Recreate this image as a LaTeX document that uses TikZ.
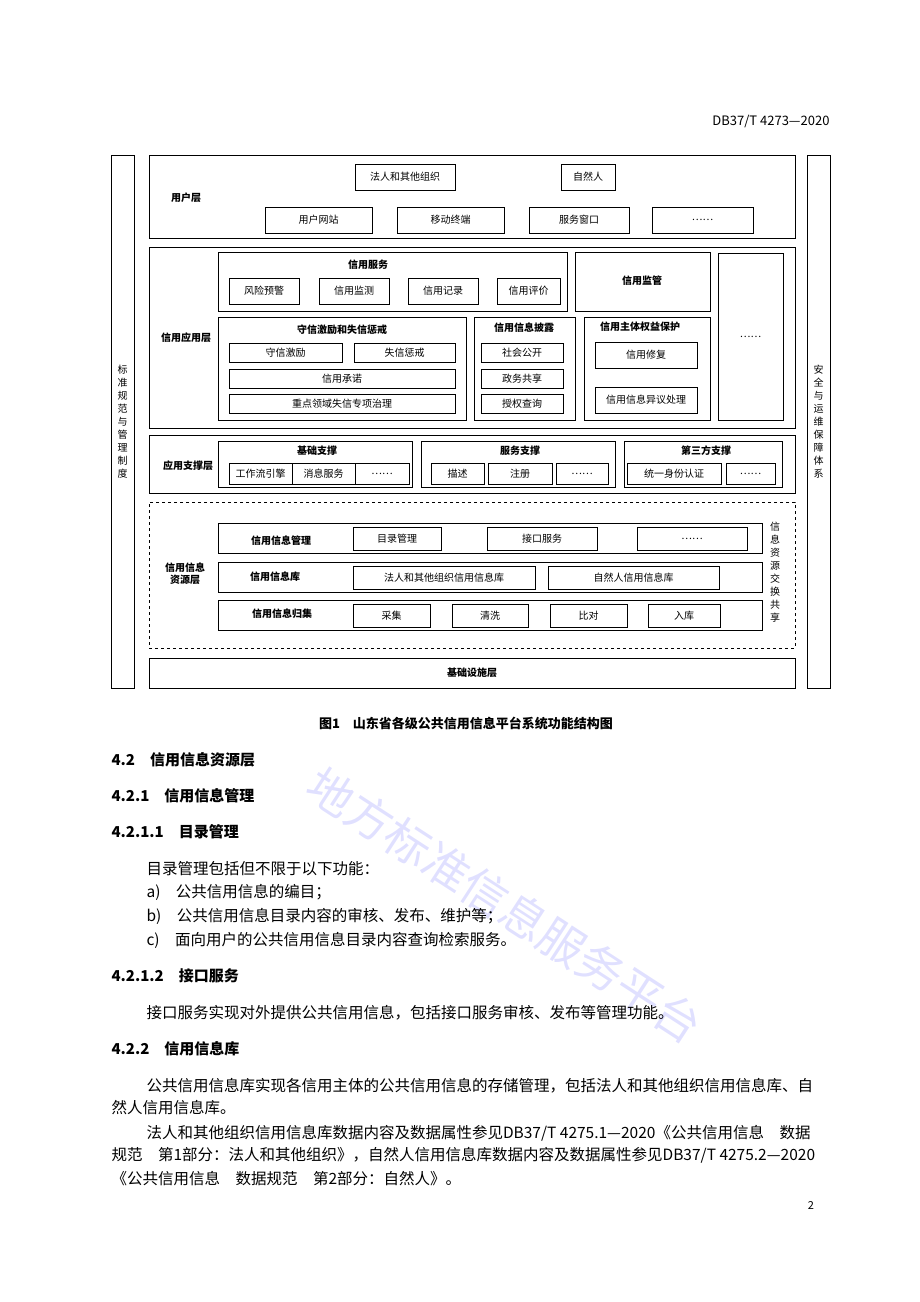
\documentclass[tikz,border=0pt]{standalone}
\usepackage{fontspec}
\setmainfont{Noto Sans CJK SC}
\usetikzlibrary{positioning}
\tikzset{
  box/.style={draw, thick, inner sep=0pt, font=\fontsize{10}{12}\selectfont},
  lbl/.style={font=\fontsize{10}{12}\selectfont\bfseries},
  vtext/.style={font=\fontsize{10}{13}\selectfont, align=center, inner sep=0pt},
  body/.style={anchor=west, font=\fontsize{15.5}{17}\selectfont},
  head/.style={anchor=west, font=\fontsize{15}{17}\selectfont\bfseries}
}
% box from corner (x1,y1) to (x2,y2), pixel units
\newcommand\bx[6]{\node[box, minimum width={#4-#2}, minimum height={#5-#3}] (#1) at ({(#2+#4)/2},{(#3+#5)/2}) {#6};}
\begin{document}
\begin{tikzpicture}[x=1pt,y=-1pt]
\useasboundingbox (0,0) rectangle (920,1302);
\node[anchor=east, font=\fontsize{13}{15}\selectfont] (pghead) at (833,121) {DB37/T 4273—2020};

% side columns
\bx{std}{111}{155}{134}{688}{}
\node[vtext] (stdt) at (std) {标\\准\\规\\范\\与\\管\\理\\制\\度};
\bx{safe}{807}{155}{830}{688}{}
\node[vtext] (safet) at (safe) {安\\全\\与\\运\\维\\保\\障\\体\\系};

% user layer
\bx{user}{149}{155}{795}{238}{}
\node[lbl] (usert) at (186,198) {用户层};
\bx{legal}{355}{164}{455}{190}{法人和其他组织}
\bx{person}{561}{164}{615}{190}{自然人}
\bx{web}{265}{207}{372}{233}{用户网站}
\bx{mobile}{397}{207}{504}{233}{移动终端}
\bx{window}{529}{207}{629}{233}{服务窗口}
\bx{umore}{652}{207}{753}{233}{……}

% application layer
\bx{app}{149}{247}{795}{428}{}
\node[lbl] (appt) at (186,338) {信用应用层};
\bx{svc}{218}{252}{567}{311}{}
\node[lbl] (svct) at (368,265) {信用服务};
\bx{warn}{229}{278}{299}{304}{风险预警}
\bx{monitor}{319}{278}{389}{304}{信用监测}
\bx{record}{408}{278}{478}{304}{信用记录}
\bx{rate}{497}{278}{560}{304}{信用评价}
\bx{super}{575}{252}{710}{311}{}
\node[lbl] (supert) at (642,281) {信用监管};
\bx{amore}{718}{253}{783}{420}{……}
\bx{incent}{218}{317}{466}{420}{}
\node[lbl] (incentt) at (342,330) {守信激励和失信惩戒};
\bx{keep}{229}{343}{342}{362}{守信激励}
\bx{punish}{354}{343}{455}{362}{失信惩戒}
\bx{promise}{229}{369}{455}{388}{信用承诺}
\bx{govern}{229}{394}{455}{413}{重点领域失信专项治理}
\bx{disc}{474}{317}{575}{420}{}
\node[lbl] (disct) at (524,328) {信用信息披露};
\bx{public}{481}{343}{563}{362}{社会公开}
\bx{share}{481}{369}{563}{388}{政务共享}
\bx{query}{481}{394}{563}{413}{授权查询}
\bx{right}{584}{317}{710}{420}{}
\node[lbl] (rightt) at (640,327) {信用主体权益保护};
\bx{repair}{595}{342}{697}{368}{信用修复}
\bx{object}{595}{387}{697}{413}{信用信息异议处理}

% support layer
\bx{sup}{149}{435}{795}{493}{}
\node[lbl] (supt) at (188,466) {应用支撑层};
\bx{base}{218}{441}{412}{487}{}
\node[lbl] (baset) at (317,451) {基础支撑};
\bx{flow}{229}{463}{292}{484}{工作流引擎}
\bx{msg}{292}{463}{355}{484}{消息服务}
\bx{bmore}{355}{463}{409}{484}{……}
\bx{ssup}{421}{441}{615}{487}{}
\node[lbl] (ssupt) at (520,451) {服务支撑};
\bx{desc}{431}{463}{484}{484}{描述}
\bx{reg}{488}{463}{552}{484}{注册}
\bx{smore}{556}{463}{608}{484}{……}
\bx{third}{624}{441}{782}{487}{}
\node[lbl] (thirdt) at (706,451) {第三方支撑};
\bx{auth}{627}{463}{721}{484}{统一身份认证}
\bx{tmore}{726}{463}{775}{484}{……}

% resource layer
\node[draw, thick, dashed, minimum width=646, minimum height=146] (res) at (472,575) {};
\node[lbl, align=center] (rest) at (185,574) {信用信息\\资源层};
\node[vtext] (exch) at (775,572) {信\\息\\资\\源\\交\\换\\共\\享};
\bx{mgmt}{218}{523}{762}{553}{}
\node[lbl] (mgmtt) at (281,541) {信用信息管理};
\bx{catalog}{353}{527}{441}{550}{目录管理}
\bx{iface}{487}{527}{597}{550}{接口服务}
\bx{mmore}{637}{527}{747}{550}{……}
\bx{db}{218}{562}{762}{592}{}
\node[lbl] (dbt) at (275,577) {信用信息库};
\bx{legaldb}{353}{566}{535}{589}{法人和其他组织信用信息库}
\bx{persondb}{548}{566}{719}{589}{自然人信用信息库}
\bx{coll}{218}{600}{762}{630}{}
\node[lbl] (collt) at (282,614) {信用信息归集};
\bx{gather}{353}{604}{430}{627}{采集}
\bx{clean}{452}{604}{528}{627}{清洗}
\bx{compare}{550}{604}{627}{627}{比对}
\bx{store}{648}{604}{720}{627}{入库}

% infrastructure
\bx{infra}{149}{658}{795}{688}{}
\node[lbl] (infrat) at (infra) {基础设施层};

\node[font=\fontsize{13}{15}\selectfont\bfseries] (cap) at (466,723) {图1\quad 山东省各级公共信用信息平台系统功能结构图};

% watermark
\node[rotate=-33, text=blue!40, opacity=0.3, font=\fontsize{46}{50}\selectfont] (wm) at (505,905) {地方标准信息服务平台};

% body text
\node[head] (h1) at (108,760) {4.2\quad 信用信息资源层};
\node[head] (h2) at (108,796) {4.2.1\quad 信用信息管理};
\node[head] (h3) at (108,832) {4.2.1.1\quad 目录管理};
\node[body] (p1) at (143,869) {目录管理包括但不限于以下功能：};
\node[body] (pa) at (143,892) {a)\quad 公共信用信息的编目；};
\node[body] (pb) at (143,916) {b)\quad 公共信用信息目录内容的审核、发布、维护等；};
\node[body] (pc) at (143,940) {c)\quad 面向用户的公共信用信息目录内容查询检索服务。};
\node[head] (h4) at (108,976) {4.2.1.2\quad 接口服务};
\node[body] (p2) at (143,1013) {接口服务实现对外提供公共信用信息，包括接口服务审核、发布等管理功能。};
\node[head] (h5) at (108,1049) {4.2.2\quad 信用信息库};
\node[body] (p3) at (143,1086) {公共信用信息库实现各信用主体的公共信用信息的存储管理，包括法人和其他组织信用信息库、自};
\node[body] (p4) at (108,1108) {然人信用信息库。};
\node[body] (p5) at (143,1133) {法人和其他组织信用信息库数据内容及数据属性参见DB37/T 4275.1—2020《公共信用信息\quad 数据};
\node[body] (p6) at (108,1155) {规范\quad 第1部分：法人和其他组织》，自然人信用信息库数据内容及数据属性参见DB37/T 4275.2—2020};
\node[body] (p7) at (108,1179) {《公共信用信息\quad 数据规范\quad 第2部分：自然人》。};
\node[font=\fontsize{11}{13}\selectfont] (pgno) at (811,1205) {2};
\end{tikzpicture}
\end{document}
